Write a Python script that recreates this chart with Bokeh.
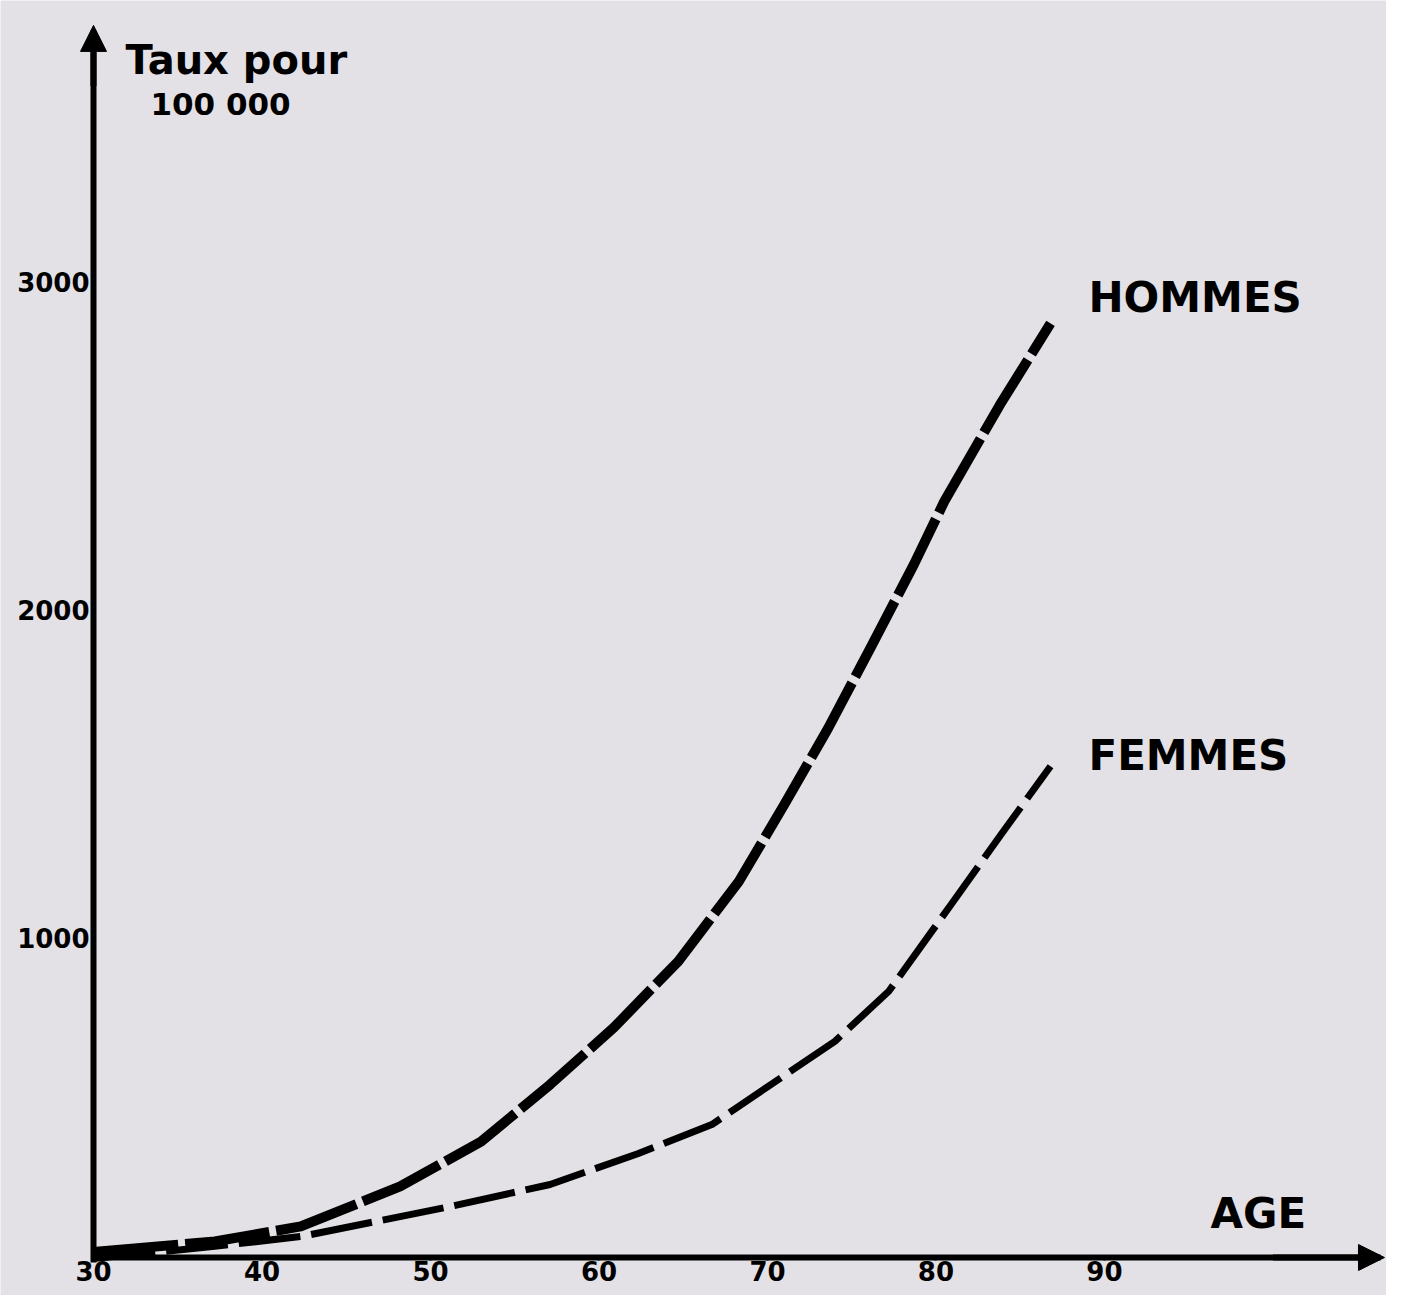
from bokeh.plotting import figure
from bokeh.models import Range1d, FixedTicker, Label, Arrow, NormalHead
from bokeh.embed import file_html
from bokeh.resources import INLINE

# ---- data ----
ages_hommes = [30, 37.2, 42.3, 48.2, 53.0, 57.1, 60.9, 64.7, 68.3, 71.0, 73.6, 76.1, 78.7, 80.5, 83.8, 86.8]
taux_hommes = [40, 72, 118, 240, 377, 551, 726, 927, 1171, 1406, 1639, 1883, 2140, 2332, 2627, 2875]

ages_femmes = [30, 37.2, 42.3, 51.2, 57.1, 62.3, 66.7, 70.2, 74.0, 77.2, 80.9, 83.8, 86.8]
taux_femmes = [20, 57, 87, 179, 246, 340, 429, 551, 683, 836, 1101, 1310, 1523]

x_ticks = [30, 40, 50, 60, 70, 80, 90]
y_ticks = [1000, 2000, 3000]

BG = "#e3e1e5"
FONT = "DejaVu Sans"
Y0 = 23      # value at which the age axis is drawn
X0 = 30      # age at which the rate axis is drawn

p = figure(width=1386, height=1295, output_backend="svg", toolbar_location=None,
           x_range=Range1d(24.48, 106.74), y_range=Range1d(-93, 3861),
           min_border_left=0, min_border_top=0, min_border_bottom=0, min_border_right=0)
p.background_fill_color = BG
p.border_fill_color = BG
p.outline_line_color = None
p.grid.visible = False

# axes, drawn inside the frame
p.xaxis.fixed_location = Y0
p.yaxis.fixed_location = X0
p.xaxis.bounds = (X0, 106.4)
p.yaxis.bounds = (Y0 - 15, 3770)
p.xaxis.ticker = FixedTicker(ticks=x_ticks)
p.yaxis.ticker = FixedTicker(ticks=y_ticks)
for ax in (p.xaxis, p.yaxis):
    ax.axis_line_width = 6
    ax.axis_line_color = "black"
    ax.major_label_text_font = FONT
    ax.major_label_text_font_style = "bold"
    ax.major_label_text_color = "black"
    ax.minor_tick_line_color = None
    ax.major_tick_line_color = "black"
    ax.major_tick_line_width = 2
p.xaxis.major_tick_in = 0
p.xaxis.major_tick_out = 3
p.xaxis.major_label_standoff = 0
p.xaxis.major_label_text_font_size = "26px"
p.yaxis.major_tick_in = 0
p.yaxis.major_tick_out = 0
p.yaxis.major_label_standoff = 4
p.yaxis.major_label_text_font_size = "26px"

# arrow heads
p.add_layout(Arrow(end=NormalHead(size=26, fill_color="black", line_color="black"),
                   x_start=X0, y_start=3600, x_end=X0, y_end=3785,
                   line_width=6, line_color="black"))
p.add_layout(Arrow(end=NormalHead(size=26, fill_color="black", line_color="black"),
                   x_start=100, y_start=Y0, x_end=106.62, y_end=Y0,
                   line_width=6, line_color="black"))

# curves
p.line(ages_hommes, taux_hommes, line_width=10, line_color="black",
       line_dash="85 7", line_cap="butt", line_join="round")
p.line(ages_femmes, taux_femmes, line_width=7, line_color="black",
       line_dash="62 11", line_cap="butt", line_join="round")

# texts
def lab(x, y, t, size):
    p.add_layout(Label(x=x, y=y, text=t, text_font=FONT, text_font_style="bold",
                       text_font_size=size, text_color="black",
                       text_align="left", text_baseline="alphabetic"))

lab(31.9, 3680, "Taux pour", "40px")
lab(33.38, 3546, "100 000", "31px")
lab(89.05, 2955, "HOMMES", "42px")
lab(89.05, 1556, "FEMMES", "42px")
lab(96.29, 157, "AGE", "42px")

open("out.html", "w").write(file_html(p, INLINE))
